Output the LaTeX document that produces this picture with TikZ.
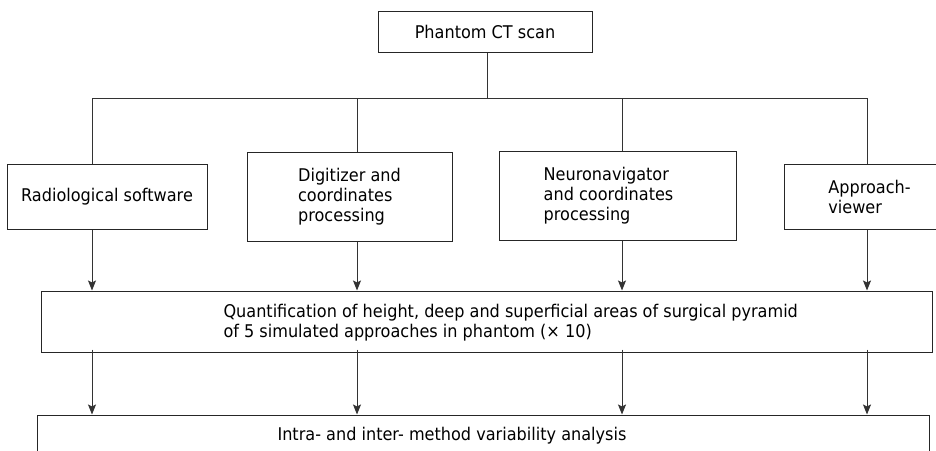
\documentclass[tikz,border=0pt]{standalone}
\usepackage{fontspec}
\setmainfont{DejaVu Sans}[FakeStretch=0.92]
\usepackage{tikz}
\usetikzlibrary{arrows.meta}

\begin{document}
\begin{tikzpicture}[x=1pt, y=-1pt, line width=1pt,
    box/.style = {draw=black!85, rectangle, inner sep=0pt, align=left},
    txt/.style = {inner sep=0pt, align=left},
    link/.style = {draw=black!80},
    arr/.style = {draw=black!80, -{Stealth[length=10pt, width=8pt, inset=2pt]}},
    every node/.style = {font=\fontsize{17.5}{20}\selectfont}]
    \useasboundingbox (0,0) rectangle (936,450);
    % boxes
    \node[box, minimum width=214pt, minimum height=41pt] (ct)  at (485,31.5)   {Phantom CT scan};
    \node[box, minimum width=200pt, minimum height=65pt] (rad) at (107,196.5)  {Radiological software};
    \node[box, minimum width=205pt, minimum height=89pt] (dig) at (349.5,196.5) {Digitizer and\\coordinates\\processing};
    \node[box, minimum width=237pt, minimum height=89pt] (nav) at (617.5,195.5) {\hspace*{-18pt}Neuronavigator\\\hspace*{-18pt}and coordinates\\\hspace*{-18pt}processing};
    \node[box, minimum width=171pt, minimum height=65pt] (app) at (869.5,196.5) {Approach-\\viewer};
    \node[box, minimum width=891pt, minimum height=61pt] (quant) at (486.5,321.5) {};
    \node[box, minimum width=892pt, minimum height=55pt] (intra) at (483,442.5) {};
    \node[txt, anchor=west] (qtxt) at (223,322.5)
        {Quantification of height, deep and superficial areas of surgical pyramid\\of 5 simulated approaches in phantom (× 10)};
    \node[txt, anchor=base west] (itxt) at (277,440) {Intra- and inter- method variability analysis};
    % branch points
    \coordinate (j1) at (92,98);
    \coordinate (j2) at (357,98);
    \coordinate (j3) at (622,98);
    \coordinate (j4) at (867,98);
    \draw[link] (ct.south -| 487,0) -- (487,98);
    \draw[link] (j1) -- (j4);
    \foreach \j/\b in {j1/rad, j2/dig, j3/nav, j4/app} {
        \draw[link] (\j) -- (\j |- \b.north);
        \draw[arr] (\j |- \b.south) -- (\j |- quant.north);
        \draw[arr] ([yshift=3pt]\j |- quant.south) -- (\j |- intra.north);
    }
\end{tikzpicture}
\end{document}
